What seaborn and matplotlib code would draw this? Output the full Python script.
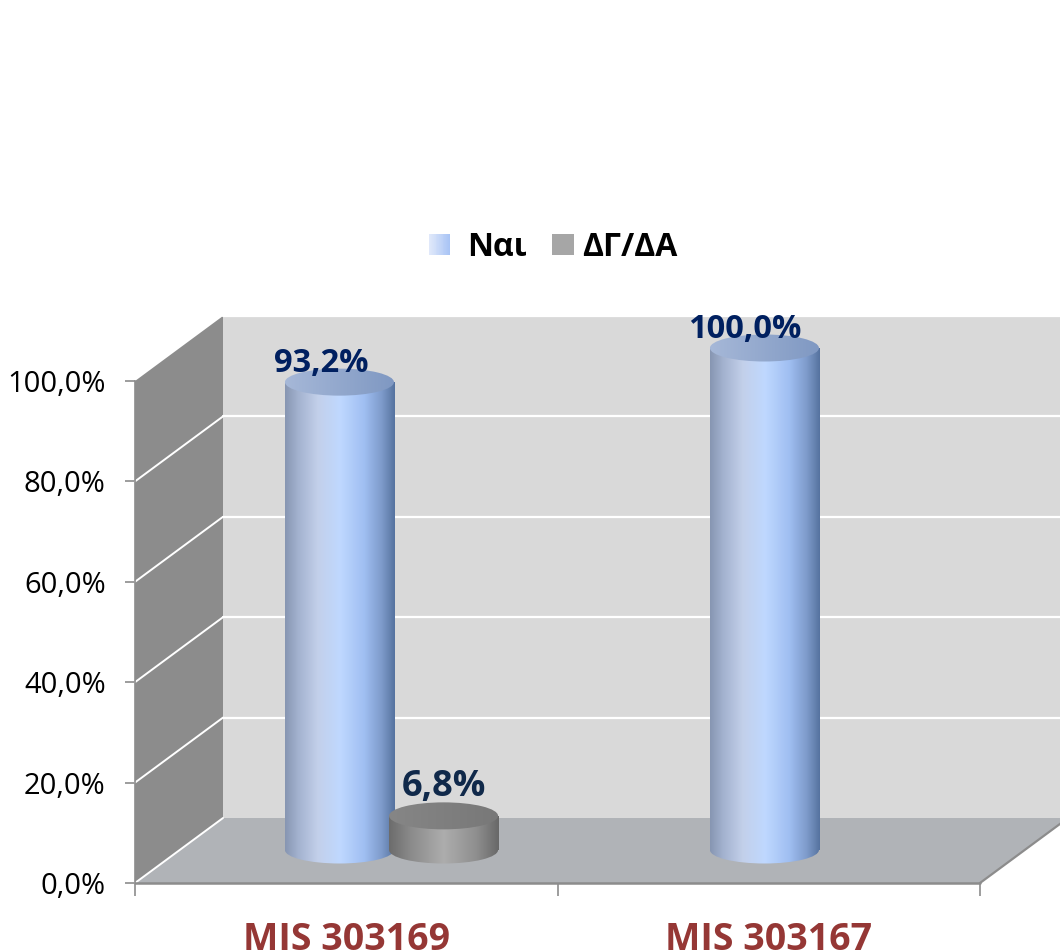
import numpy as np
import pandas as pd
import seaborn as sns
import matplotlib
matplotlib.use("Agg")
import matplotlib.pyplot as plt
from matplotlib.colors import LinearSegmentedColormap
from matplotlib.patches import Ellipse, Polygon, Rectangle, Patch
from matplotlib.legend_handler import HandlerBase

projects = ["MIS 303169", "MIS 303167"]
yes_values = [93.2, 100.0]
na_values = [6.8, np.nan]
yes_label = "Ναι"
na_label = "ΔΓ/ΔΑ"
value_labels_yes = ["93,2%", "100,0%"]
value_labels_na = ["6,8%", ""]
y_ticks = [0, 20, 40, 60, 80, 100]
y_tick_labels = ["0,0%", "20,0%", "40,0%", "60,0%", "80,0%", "100,0%"]

FONT = "Open Sans"
W, H = 1060, 952
sns.set_theme(style="white")
plt.rcParams["font.family"] = [FONT, "DejaVu Sans"]


def box(x0, x1, y_bottom, y_top):
    return [x0 / W, 1 - y_bottom / H, (x1 - x0) / W, (y_bottom - y_top) / H]


blue_cmap = LinearSegmentedColormap.from_list(
    "b", [(0, "#8796b2"), (0.12, "#a3b2cf"), (0.3, "#c3d0ea"), (0.5, "#bfd8ff"),
          (0.72, "#a0bff2"), (0.88, "#7e9bcb"), (1, "#56739f")])
gray_cmap = LinearSegmentedColormap.from_list(
    "g", [(0, "#6c6c6c"), (0.2, "#8b8b8b"), (0.5, "#adadad"), (0.8, "#8e8e8e"), (1, "#686868")])
blue_top = LinearSegmentedColormap.from_list("bt", ["#a6b8d8", "#7f98c2"])
gray_top = LinearSegmentedColormap.from_list("gt", ["#868686", "#787878"])
grad = np.linspace(0, 1, 256)[None, :]

fig = plt.figure(figsize=(W / 100, H / 100), dpi=100, facecolor="white")

# front plane: ticks, labels and walls
ax = fig.add_axes(box(135, 980, 883, 381))
ax.set_xlim(-0.5, 1.5)
ax.set_ylim(0, 100)
ax.patch.set_alpha(0)
dx = 88 / (845 / 2)
dy = 65 / 5.02
x0, x1 = -0.5, 1.5
ax.add_patch(Rectangle((x0 + dx, dy), x1 - x0, 100, fc="#d9d9d9", ec="none", clip_on=False, zorder=1))
ax.add_patch(Polygon([(x0, 0), (x0 + dx, dy), (x0 + dx, 100 + dy), (x0, 100)],
                     fc="#8c8c8c", ec="none", clip_on=False, zorder=1))
ax.add_patch(Polygon([(x0, 0), (x0 + dx, dy), (x1 + dx, dy), (x1, 0)],
                     fc="#b0b3b7", ec="none", clip_on=False, zorder=1))
for t in y_ticks:
    if t > 0:
        ax.plot([x0 + dx, x1 + dx], [t + dy, t + dy], color="white", lw=1.6, clip_on=False, zorder=2)
    if t < 100:
        ax.plot([x0, x0 + dx], [t, t + dy], color="white", lw=1.4, clip_on=False, zorder=2)
ax.plot([x1, x1 + dx], [0, dy], color="#8c8c8c", lw=1.6, clip_on=False, zorder=2)
ax.plot([x0, x1], [0, 0], color="#8c8c8c", lw=1.8, clip_on=False, zorder=2)

for s in ["top", "right", "bottom"]:
    ax.spines[s].set_visible(False)
ax.spines["left"].set_color("#8c8c8c")
ax.spines["left"].set_linewidth(1.2)
ax.set_yticks(y_ticks, y_tick_labels)
ax.tick_params(axis="y", left=True, length=7, width=1.2, color="#8c8c8c", pad=14,
               labelsize=21, labelcolor="black")
ax.set_xticks([-0.5, 0.5, 1.5], ["", "", ""])
ax.tick_params(axis="x", bottom=True, length=9, width=1.2, color="#8c8c8c")
ax.set_xticks([0, 1], projects, minor=True)
ax.tick_params(axis="x", which="minor", bottom=False, length=0, pad=27, labelsize=27,
               labelcolor="#953735")
for lab in ax.get_xticklabels(minor=True):
    lab.set_fontweight("bold")
ax.set_xlabel("")
ax.set_ylabel("")

# bars, sitting half way along the depth of the floor
bar_ax = fig.add_axes(box(179, 1029, 883 - 33, 381 - 33), zorder=3)
df = pd.DataFrame({
    "project": projects * 2,
    "value": yes_values + na_values,
    "response": [yes_label] * 2 + [na_label] * 2,
})
sns.barplot(data=df, x="project", y="value", hue="response", hue_order=[yes_label, na_label],
            order=projects, palette=["#bfd8ff", "#adadad"], width=0.49, gap=-0.047,
            legend=False, ax=bar_ax)
bar_ax.set_xlim(-0.5, 1.5)
bar_ax.set_ylim(0, 100)
bar_ax.axis("off")
ry = 2 * 13.5 / 5.02

z = 5
label_sets = [value_labels_yes, value_labels_na]
styles = [(blue_cmap, blue_top, "#002060", 23.5), (gray_cmap, gray_top, "#10294a", 26)]
offsets = {0: (-18, 19), 1: (0, 29)}
for i, container in enumerate(bar_ax.containers):
    body, top, txt, fs = styles[i]
    for patch, lab in zip(container.patches, label_sets[i]):
        h = patch.get_height()
        if not np.isfinite(h) or h <= 0:
            continue
        xa, w = patch.get_x(), patch.get_width()
        patch.set_facecolor("none")
        patch.set_edgecolor("none")
        patch.set_clip_on(False)
        cx = xa + w / 2
        low = Ellipse((cx, 0), w, ry, fc="none", ec="none", clip_on=False)
        bar_ax.add_patch(low)
        for clipper, (b, t) in ((patch, (0, h)), (low, (-ry, ry))):
            im = bar_ax.imshow(grad, cmap=body, extent=(xa, xa + w, b, t), aspect="auto", zorder=z)
            im.set_clip_box(fig.bbox)
            im.set_clip_path(clipper)
        cap = Ellipse((cx, h), w, ry, fc="none", ec="none", clip_on=False)
        bar_ax.add_patch(cap)
        im = bar_ax.imshow(grad, cmap=top, extent=(xa, xa + w, h - ry, h + ry), aspect="auto", zorder=z + 1)
        im.set_clip_box(fig.bbox)
        im.set_clip_path(cap)
        off = offsets[i]
        extra = -2 if lab == "100,0%" else 0
        bar_ax.annotate(lab, (cx, h), xytext=(off[0] + extra, off[1]), textcoords="offset pixels",
                        ha="center", va="center", color=txt, fontsize=fs, fontweight="bold",
                        zorder=20, annotation_clip=False)
        z += 2
bar_ax.set_xlim(-0.5, 1.5)
bar_ax.set_ylim(0, 100)


class GradSwatch(HandlerBase):
    def __init__(self, cmap, gap_px):
        super().__init__()
        self.cmap, self.gap_px = cmap, gap_px

    def create_artists(self, legend, orig, xd, yd, width, height, fontsize, trans):
        side = 21 * 72 / 100
        right = width - self.gap_px * 72 / 100
        left = right - side
        n = 24
        arts = []
        for k in range(n):
            arts.append(Rectangle((left + side * k / n, (height - side) / 2), side / n + 0.3, side,
                                  fc=self.cmap(k / (n - 1)), ec="none", transform=trans))
        return arts


swatch_yes = LinearSegmentedColormap.from_list("sy", ["#e2eafa", "#a9c4f5"])
swatch_no = LinearSegmentedColormap.from_list("sn", ["#a6a6a6", "#a6a6a6"])
h1, h2 = Patch(label=yes_label), Patch(label=na_label)
leg = fig.legend(handles=[h1, h2], handler_map={h1: GradSwatch(swatch_yes, 18), h2: GradSwatch(swatch_no, 9)},
                 loc="center", bbox_to_anchor=(557 / W, 1 - 247 / H), ncol=2, frameon=False,
                 prop={"family": FONT, "weight": "bold", "size": 23},
                 handlelength=0.97, handleheight=0.7, handletextpad=0, columnspacing=0.75,
                 borderpad=0, borderaxespad=0)
for t in leg.get_texts():
    t.set_color("black")

fig.savefig("out.png", dpi=100)
